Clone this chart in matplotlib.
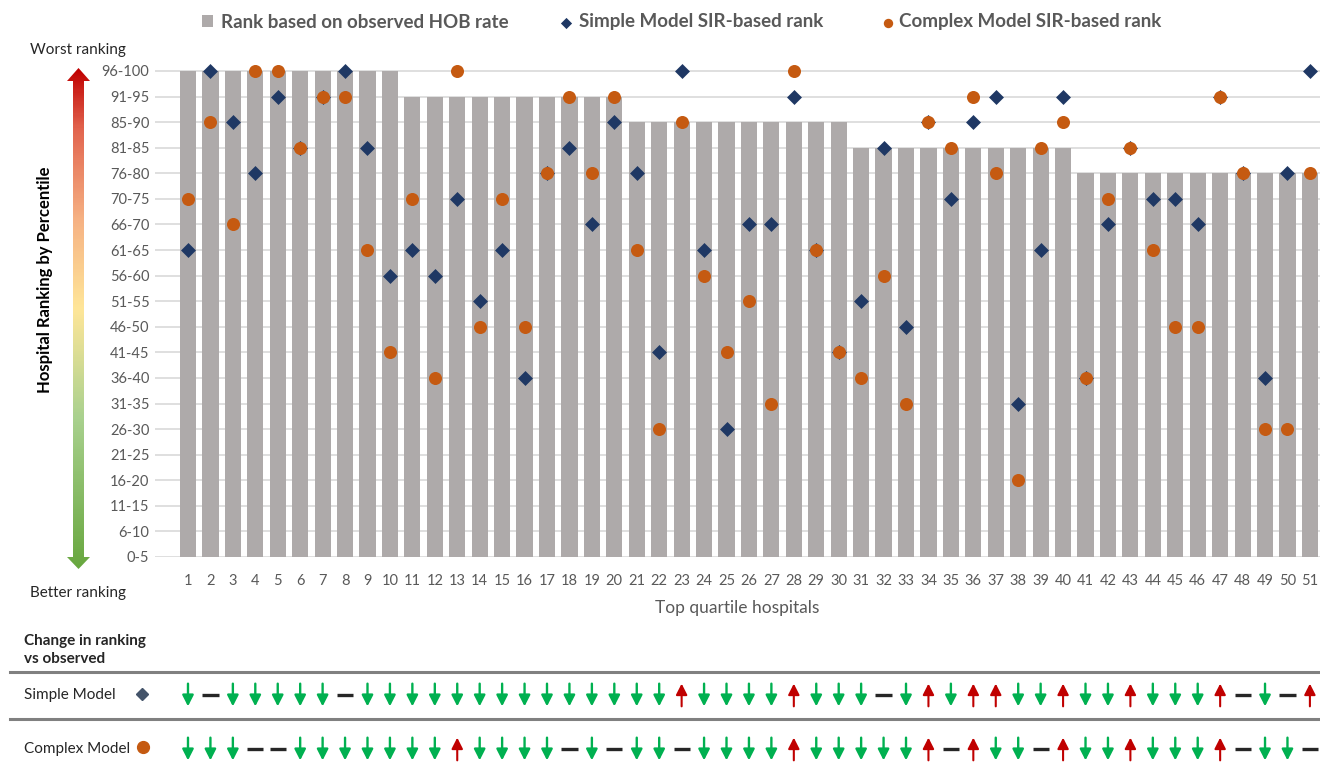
import numpy as np
import matplotlib
matplotlib.use('Agg')
import matplotlib.pyplot as plt
from matplotlib.path import Path
from matplotlib.patches import PathPatch
from matplotlib.lines import Line2D
from matplotlib.colors import LinearSegmentedColormap

plt.rcParams['font.family'] = ['Lato', 'DejaVu Sans']

# ---------------- data ----------------
categories = ['0-5', '6-10', '11-15', '16-20', '21-25', '26-30', '31-35', '36-40',
              '41-45', '46-50', '51-55', '56-60', '61-65', '66-70', '70-75', '76-80',
              '81-85', '85-90', '91-95', '96-100']
hospitals = list(range(1, 52))
# values are indices into categories
observed = [19, 19, 19, 19, 19, 19, 19, 19, 19, 19,
            18, 18, 18, 18, 18, 18, 18, 18, 18, 18,
            17, 17, 17, 17, 17, 17, 17, 17, 17, 17,
            16, 16, 16, 16, 16, 16, 16, 16, 16, 16,
            15, 15, 15, 15, 15, 15, 15, 15, 15, 15, 15]
simple = [12, 19, 17, 15, 18, 16, 18, 19, 16, 11,
          12, 11, 14, 10, 12, 7, 15, 16, 13, 17,
          15, 8, 19, 12, 5, 13, 13, 18, 12, 8,
          10, 16, 9, 17, 14, 17, 18, 6, 12, 18,
          7, 13, 16, 14, 14, 13, 18, 15, 7, 15, 19]
complex_ = [14, 17, 13, 19, 19, 16, 18, 18, 12, 8,
            14, 7, 19, 9, 14, 9, 15, 18, 15, 18,
            12, 5, 17, 11, 8, 10, 6, 19, 12, 8,
            7, 11, 6, 17, 16, 18, 15, 3, 16, 17,
            7, 14, 16, 12, 9, 9, 18, 15, 5, 5, 15]

legend_labels = ['Rank based on observed HOB rate', 'Simple Model SIR-based rank',
                 'Complex Model SIR-based rank']

# ---------------- style ----------------
W, H = 1320, 777
BAR = '#aeaaaa'
NAVY = '#1f3864'
ORANGE = '#c55a11'
GREEN = '#00b050'
RED = '#c00000'
TXT = '#595959'
DARK = '#262626'


def fx(px):
    return px / W


def fy(py):
    return 1 - py / H


fig = plt.figure(figsize=(W / 100, H / 100), dpi=100)

# main axes
x_lo, x_hi = -0.47, 51.45
ax = fig.add_axes([fx(155), fy(557), fx(1320) - fx(155), fy(60.7) - fy(557)])
ax.set_xlim(x_lo, x_hi)
ax.set_ylim(0, 19.4)
bars = ax.bar(hospitals, observed, width=0.72, color=BAR, zorder=2)
sc1 = ax.scatter(hospitals, simple, marker='D', s=58, color=NAVY, zorder=3, linewidths=0)
sc2 = ax.scatter(hospitals, complex_, marker='o', s=88, color=ORANGE, zorder=4, linewidths=0)
ax.set_yticks(range(len(categories)))
ax.set_yticklabels(categories)
ax.set_xticks(hospitals)
ax.set_xticklabels([str(h) for h in hospitals])
ax.tick_params(axis='both', length=0, labelsize=10.5, labelcolor=TXT)
ax.tick_params(axis='y', pad=4)
ax.tick_params(axis='x', pad=12)
ax.yaxis.grid(True, color='#d9d9d9', lw=1.2, zorder=0)
ax.set_axisbelow(True)
for s in ax.spines.values():
    s.set_visible(False)
ax.set_xlabel('Top quartile hospitals', fontsize=12.5, color=TXT, labelpad=9)

fig.text(fx(45), fy(280), 'Hospital Ranking by Percentile', rotation=90,
         fontsize=12, fontweight='bold', color='#000000', ha='center', va='center')
fig.text(fx(30), fy(50), 'Worst ranking', fontsize=11, color=DARK, ha='left', va='center')
fig.text(fx(30), fy(593), 'Better ranking', fontsize=11, color=DARK, ha='left', va='center')

# legends
prop = dict(weight='bold', size=13.5)
lg1 = fig.legend([bars], [legend_labels[0]], loc='center left',
                 bbox_to_anchor=(fx(202), fy(22)), frameon=False, prop=prop,
                 labelcolor=TXT, handlelength=0.6, handleheight=0.6, handletextpad=0.4,
                 borderaxespad=0, borderpad=0)
lg2 = fig.legend([sc1], [legend_labels[1]], loc='center left',
                 bbox_to_anchor=(fx(558), fy(22)), frameon=False, prop=prop,
                 labelcolor=TXT, markerscale=0.75, handlelength=0.8, handletextpad=0.3,
                 borderaxespad=0, borderpad=0)
lg3 = fig.legend([sc2], [legend_labels[2]], loc='center left',
                 bbox_to_anchor=(fx(880), fy(22)), frameon=False, prop=prop,
                 labelcolor=TXT, markerscale=0.72, handlelength=0.8, handletextpad=0.2,
                 borderaxespad=0, borderpad=0)

# overlay for decorations in pixel coords
ov = fig.add_axes([0, 0, 1, 1], zorder=-1)
ov.set_xlim(0, W)
ov.set_ylim(H, 0)
ov.axis('off')

# gradient arrow
verts = [(78.5, 68), (90, 81), (84, 81), (84, 557), (90, 557), (78.5, 569),
         (67, 557), (73, 557), (73, 81), (67, 81), (78.5, 68)]
codes = [Path.MOVETO] + [Path.LINETO] * (len(verts) - 2) + [Path.CLOSEPOLY]
arrow_path = Path(verts, codes)
patch = PathPatch(arrow_path, facecolor='none', edgecolor='none')
ov.add_patch(patch)
cmap = LinearSegmentedColormap.from_list('rk', [
    (0.0, '#c00000'), (0.12, '#e2654f'), (0.30, '#f6b183'), (0.48, '#ffe699'),
    (0.70, '#a9d18e'), (1.0, '#68a73f')])
grad = np.linspace(0, 1, 300).reshape(-1, 1)
im = ov.imshow(grad, cmap=cmap, extent=(66, 91, 569, 68), aspect='auto', origin='upper')
im.set_clip_path(patch)
ov.set_xlim(0, W)
ov.set_ylim(H, 0)

# lower panel
fig.text(fx(24), fy(641), 'Change in ranking', fontsize=11, fontweight='bold',
         color=DARK, ha='left', va='center')
fig.text(fx(24), fy(659), 'vs observed', fontsize=11, fontweight='bold',
         color=DARK, ha='left', va='center')
for yy in (672, 719):
    fig.add_artist(Line2D([fx(10), 1.0], [fy(yy), fy(yy)], transform=fig.transFigure,
                          color='#808080', lw=2.2))
fig.text(fx(24), fy(695), 'Simple Model', fontsize=11, color=DARK, ha='left', va='center')
fig.text(fx(24), fy(749), 'Complex Model', fontsize=11, color=DARK, ha='left', va='center')
ov.plot([142], [694], marker='D', ms=6, color='#44546a', ls='none')
ov.plot([143], [747], marker='o', ms=8.5, color=ORANGE, ls='none')

ax2 = fig.add_axes([fx(155), 0, fx(1320) - fx(155), 157 / H])
ax2.set_xlim(x_lo, x_hi)
ax2.set_ylim(-28 / 54, (157 - 28) / 54)
ax2.axis('off')

half = 0.21
rows = [(simple, 1), (complex_, 0)]
for model, row in rows:
    for h, o, m in zip(hospitals, observed, model):
        if m < o:
            ax2.annotate('', xy=(h, row - half), xytext=(h, row + half),
                         arrowprops=dict(arrowstyle='-|>,head_length=0.55,head_width=0.28',
                                         color=GREEN, lw=1.7, shrinkA=0, shrinkB=0,
                                         mutation_scale=12))
        elif m > o:
            ax2.annotate('', xy=(h, row + half), xytext=(h, row - half),
                         arrowprops=dict(arrowstyle='-|>,head_length=0.55,head_width=0.28',
                                         color=RED, lw=1.5, shrinkA=0, shrinkB=0,
                                         mutation_scale=12))
        else:
            ax2.plot([h - 0.36, h + 0.36], [row, row], color=DARK, lw=2.4,
                     solid_capstyle='butt')

fig.savefig('out.png', dpi=100)
